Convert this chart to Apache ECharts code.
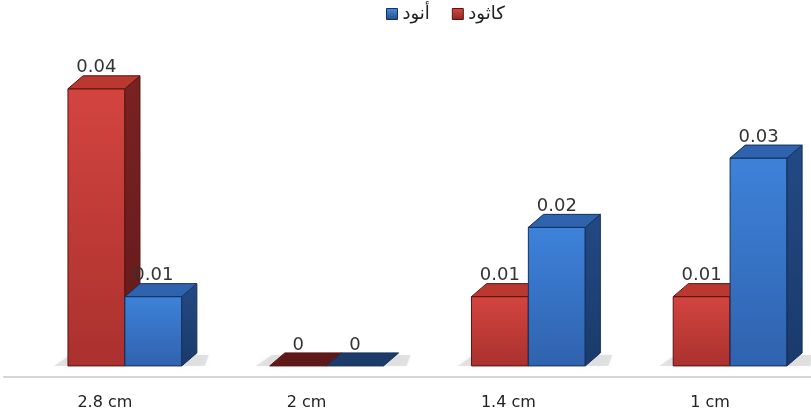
<!DOCTYPE html>
<html>
<head>
<meta charset="utf-8">
<script src="https://cdn.jsdelivr.net/npm/echarts@6/dist/echarts.min.js"></script>
<style>
  html, body { margin: 0; padding: 0; background: #ffffff; }
  #chart { width: 811px; height: 417px; }
</style>
</head>
<body>
<div id="chart"></div>
<script>
// Electrode spacing categories and measured values
const categories = ['2.8 cm', '2 cm', '1.4 cm', '1 cm'];
const cathode = [0.04, 0, 0.01, 0.01];   // كاثود
const anode = [0.01, 0, 0.02, 0.03];     // أنود
const seriesNames = ['كاثود', 'أنود'];
const legendOrder = ['أنود', 'كاثود'];

const palettes = [
  { frontTop: '#d3443f', frontBot: '#aa312e', side: '#7a2222', sideBot: '#621a1a', top: '#b9382f', flat: '#5e1a1a', edge: '#5a1212' },
  { frontTop: '#3d82da', frontBot: '#3062ae', side: '#234a85', sideBot: '#1a3a6a', top: '#2f63ae', flat: '#1d3b68', edge: '#15305a' }
];

function grad(a, b) {
  return new echarts.graphic.LinearGradient(0, 0, 0, 1, [
    { offset: 0, color: a }, { offset: 1, color: b }
  ]);
}

// Draws one 3D box (front, side, top faces) plus its value label
function makeRender(s) {
  const pal = palettes[s];
  return function (params, api) {
    const idx = api.value(0);
    const val = api.value(1);
    const basePt = api.coord([idx, 0]);
    const topPt = api.coord([idx, val]);
    const band = api.size([1, 0])[0];
    const w = band * 0.282;
    const dx = band * 0.075;
    const dy = -13;
    const cx = basePt[0];
    const joint = cx + band * 0.099;
    const x0 = s === 0 ? joint - w : joint;
    const base = basePt[1];
    const top = topPt[1];
    const zb = s * 10;
    const children = [];

    if (s === 0) {
      // soft floor shadow under the pair of boxes
      children.push({
        type: 'polygon', z2: -5,
        shape: { points: [[x0 - 14, base], [x0 + 2 * w + dx + 8, base], [x0 + 2 * w + dx + 12, base + dy + 2], [x0 + 2, base + dy + 2]] },
        style: { fill: 'rgba(0,0,0,0.10)', shadowBlur: 7, shadowColor: 'rgba(0,0,0,0.30)' },
        silent: true
      });
    }

    const h = base - top;
    if (h > 0.5) {
      children.push({
        type: 'rect', z2: zb + 1,
        shape: { x: x0, y: top, width: w, height: h },
        style: { fill: grad(pal.frontTop, pal.frontBot), stroke: pal.edge, lineWidth: 1 }
      });
      children.push({
        type: 'polygon', z2: zb + 2,
        shape: { points: [[x0 + w, top], [x0 + w + dx, top + dy], [x0 + w + dx, base + dy], [x0 + w, base]] },
        style: { fill: grad(pal.side, pal.sideBot), stroke: pal.edge, lineWidth: 1 }
      });
    }
    children.push({
      type: 'polygon', z2: zb + 3,
      shape: { points: [[x0, top], [x0 + dx, top + dy], [x0 + w + dx, top + dy], [x0 + w, top]] },
      style: { fill: h > 0.5 ? pal.top : pal.flat, stroke: pal.edge, lineWidth: 1 }
    });
    children.push({
      type: 'text', z2: zb + 4,
      x: x0 + w / 2, y: top - 21,
      style: {
        text: String(val), fill: '#333333',
        font: '18px "DejaVu Sans"',
        align: 'center', verticalAlign: 'middle',
        textAlign: 'center', textVerticalAlign: 'middle'
      }
    });
    return { type: 'group', children: children };
  };
}

const chart = echarts.init(document.getElementById('chart'), null, { renderer: 'canvas' });

const seriesData = [cathode, anode];
const legendIcons = {
  'كاثود': { color: grad('#d84a44', '#8a2622'), borderColor: '#5a1212' },
  'أنود': { color: grad('#4a8de0', '#1f4a8a'), borderColor: '#15305a' }
};

chart.setOption({
  animation: false,
  backgroundColor: '#ffffff',
  legend: {
    left: 381, top: 0,
    itemWidth: 11, itemHeight: 11, itemGap: 22,
    icon: 'rect',
    data: legendOrder.map(n => ({ name: n, itemStyle: { color: legendIcons[n].color, borderColor: legendIcons[n].borderColor, borderWidth: 1 } })),
    textStyle: { fontFamily: 'DejaVu Sans', fontSize: 18, color: '#222222' }
  },
  // the floor line sits a little below the zero plane of the boxes
  grid: { left: 4, right: 0, top: 19.5, bottom: 40, containLabel: false },
  xAxis: {
    type: 'category',
    data: categories,
    axisLine: { show: true, onZero: false, lineStyle: { color: '#d6d6d6', width: 2 } },
    axisTick: { show: false },
    axisLabel: { margin: 18, fontFamily: 'DejaVu Sans', fontSize: 16, color: '#222222' },
    splitLine: { show: false }
  },
  yAxis: {
    type: 'value', min: -0.0016, max: 0.05,
    show: false
  },
  series: seriesNames.map((name, s) => ({
    type: 'custom',
    name: name,
    itemStyle: { color: palettes[s].frontTop },
    renderItem: makeRender(s),
    encode: { x: 0, y: 1 },
    data: seriesData[s].map((v, i) => [i, v])
  }))
});
</script>
</body>
</html>
